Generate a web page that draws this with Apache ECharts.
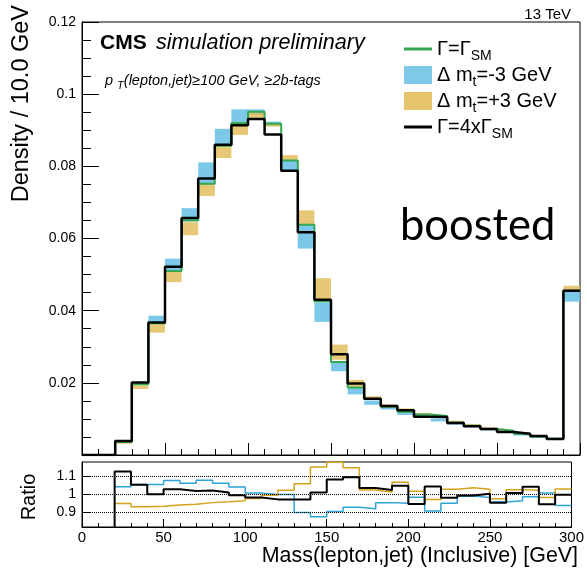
<!DOCTYPE html>
<html>
<head>
<meta charset="utf-8">
<title>Mass(lepton,jet) boosted</title>
<script src="https://cdn.jsdelivr.net/npm/echarts@6/dist/echarts.min.js"></script>
<style>
    html, body { margin: 0; padding: 0; background: #fff; }
    #mass-chart { width: 587px; height: 571px; }
</style>
</head>
<body>
<div id="mass-chart"></div>
<script>
// bin edges, 10 GeV wide
var binEdges = [0, 10, 20, 30, 40, 50, 60, 70, 80, 90, 100, 110, 120, 130, 140, 150,
    160, 170, 180, 190, 200, 210, 220, 230, 240, 250, 260, 270, 280, 290, 300];

// upper panel: density per bin
var nominal = [0, 0, 0.0036, 0.0196, 0.0365, 0.0510, 0.0650, 0.0752, 0.0857, 0.0920,
    0.0951, 0.0918, 0.0816, 0.0638, 0.0426, 0.0258, 0.0187, 0.0155, 0.0134, 0.0120,
    0.0112, 0.0108, 0.0090, 0.0081, 0.0072, 0.0067, 0.0059, 0.0051, 0.0045, 0.0455];
var width4x = [0, 0, 0.0039, 0.0201, 0.0367, 0.0522, 0.0657, 0.0766, 0.0860, 0.0914,
    0.0931, 0.0888, 0.0788, 0.0617, 0.0430, 0.0279, 0.0198, 0.0156, 0.0136, 0.0124,
    0.0106, 0.0105, 0.0089, 0.0080, 0.0072, 0.0064, 0.0059, 0.0053, 0.0044, 0.0455];
var mtMinus = [0, 0, 0.0037, 0.0198, 0.0376, 0.0526, 0.0667, 0.0781, 0.0882, 0.0940,
    0.0950, 0.0918, 0.0803, 0.0605, 0.0396, 0.0245, 0.0178, 0.0145, 0.0130, 0.0115,
    0.0110, 0.0097, 0.0087, 0.0080, 0.0071, 0.0064, 0.0057, 0.0050, 0.0046, 0.0440];
var mtMinusErr = [0, 0, 0.0003, 0.0004, 0.0010, 0.0018, 0.0017, 0.0030, 0.0022, 0.0018,
    0.0008, 0.0006, 0.0013, 0.0033, 0.0027, 0.0013, 0.0010, 0.0006, 0.0004, 0.0004,
    0.0004, 0.0004, 0.0003, 0.0003, 0.0003, 0.0003, 0.0003, 0.0003, 0.0002, 0.0015];
var mtPlus = [0, 0, 0.0034, 0.0188, 0.0351, 0.0494, 0.0627, 0.0735, 0.0840, 0.0902,
    0.0940, 0.0915, 0.0823, 0.0658, 0.0460, 0.0285, 0.0198, 0.0158, 0.0136, 0.0125,
    0.0113, 0.0106, 0.0092, 0.0083, 0.0074, 0.0066, 0.0060, 0.0052, 0.0044, 0.0462];
var mtPlusErr = [0, 0, 0.0003, 0.0005, 0.0012, 0.0015, 0.0018, 0.0017, 0.0017, 0.0015,
    0.0010, 0.0005, 0.0008, 0.0020, 0.0030, 0.0021, 0.0010, 0.0005, 0.0004, 0.0004,
    0.0003, 0.0003, 0.0003, 0.0003, 0.0003, 0.0003, 0.0002, 0.0002, 0.0002, 0.0007];

// lower panel: ratio to nominal
var ratioWidth4x = [0, 0, 1.128, 1.054, 1.002, 1.029, 1.020, 1.022, 1.011, 0.996,
    0.984, 0.973, 0.973, 0.973, 1.011, 1.083, 1.095, 1.036, 1.025, 1.049,
    0.948, 1.045, 0.982, 0.995, 1.004, 0.955, 1.009, 1.043, 0.946, 0.998];
var ratioMtMinus = [null, null, 1.043, 1.055, 1.055, 1.077, 1.063, 1.079, 1.063, 1.041,
    1.009, 1.000, 1.000, 0.900, 0.877, 0.906, 0.930, 0.921, 0.955, 0.951,
    0.985, 0.908, 0.951, 0.991, 0.984, 0.959, 0.966, 0.987, 1.009, 0.939];
var ratioMtPlus = [null, null, 0.950, 0.932, 0.935, 0.942, 0.946, 0.955, 0.960, 0.966,
    0.978, 0.996, 1.023, 1.059, 1.153, 1.178, 1.148, 1.025, 1.014, 1.068,
    1.018, 0.973, 1.029, 1.038, 1.029, 0.977, 1.027, 1.023, 0.984, 1.031];

var ratioTicks = [0.9, 1, 1.1];

var chartMgr = {

    font: 'Liberation Sans, Arial, sans-serif',

    // step points: left edge of each bin, plus the closing right edge
    histPoints: function (values) {
        var pts = [];
        for (var i = 0; i < values.length; i++) {
            pts.push([binEdges[i], values[i]]);
        }
        pts.push([binEdges[values.length], values[values.length - 1]]);
        return pts;
    },

    bandData: function (values, errs) {
        var out = [];
        for (var i = 0; i < values.length; i++) {
            if (!values[i]) continue;
            out.push([binEdges[i], binEdges[i + 1], values[i] - errs[i], values[i] + errs[i]]);
        }
        return out;
    },

    bandRender: function (fill) {
        return function (params, api) {
            var p0 = api.coord([api.value(0), api.value(3)]);
            var p1 = api.coord([api.value(1), api.value(2)]);
            return {
                type: 'rect',
                shape: { x: p0[0], y: p0[1], width: p1[0] - p0[0], height: p1[1] - p0[1] },
                style: { fill: fill }
            };
        };
    },

    legendItem: function (name, top, icon, color, h) {
        var self = this;
        return {
            data: [{ name: name, icon: icon, itemStyle: { color: color } }],
            left: 404,
            top: top,
            itemWidth: 28,
            itemHeight: h,
            itemGap: 0,
            padding: 0,
            selectedMode: false,
            formatter: function (n) { return self.labels[n]; },
            textStyle: {
                fontFamily: self.font, fontSize: 20, color: '#000', padding: [0, 0, 0, 0],
                rich: {
                    sub: { fontFamily: self.font, fontSize: 14, color: '#000', padding: [14, 0, 0, 0] }
                }
            }
        };
    },

    labels: {
        'nominal': '\u0393=\u0393{sub|SM}',
        'mtMinus': '\u0394 m{sub|t}=-3 GeV',
        'mtPlus': '\u0394 m{sub|t}=+3 GeV',
        'width4x': '\u0393=4x\u0393{sub|SM}'
    },

    init: function () {
        var myChart = echarts.init(document.getElementById('mass-chart'));
        var font = this.font;
        var black = '#000';

        var xBase = {
            type: 'value', min: 0, max: 300, interval: 50,
            axisLine: { lineStyle: { color: black } },
            splitLine: { show: false }
        };

        var option = {
            backgroundColor: '#fff',
            animation: false,
            grid: [
                { left: 82, top: 22, width: 498, height: 433, show: true, borderColor: black, borderWidth: 1 },
                { left: 82, top: 462, width: 498, height: 65, show: true, borderColor: black, borderWidth: 1 }
            ],
            xAxis: [
                Object.assign({}, xBase, {
                    gridIndex: 0,
                    axisTick: { inside: true, length: 12, lineStyle: { color: black } },
                    minorTick: { show: true, splitNumber: 5, length: 6, lineStyle: { color: black } },
                    axisLabel: { show: false }
                }),
                Object.assign({}, xBase, {
                    gridIndex: 1,
                    axisTick: { inside: true, length: 8, lineStyle: { color: black } },
                    minorTick: { show: true, splitNumber: 5, length: 4, lineStyle: { color: black } },
                    axisLabel: { fontFamily: font, fontSize: 15, color: black, margin: 3 }
                })
            ],
            yAxis: [
                {
                    type: 'value', gridIndex: 0, min: 0, max: 0.12, interval: 0.02,
                    axisLine: { show: true, lineStyle: { color: black } },
                    axisTick: { inside: true, length: 17, lineStyle: { color: black } },
                    minorTick: { show: true, splitNumber: 4, length: 9, lineStyle: { color: black } },
                    axisLabel: {
                        showMinLabel: false, fontFamily: font, fontSize: 14, color: black, margin: 6,
                        formatter: function (v) { return String(+v.toFixed(2)); }
                    },
                    splitLine: { show: false }
                },
                {
                    type: 'value', gridIndex: 1, min: 0.82, max: 1.18,
                    axisLine: { show: true, lineStyle: { color: black } },
                    axisTick: { inside: true, length: 8, customValues: ratioTicks, lineStyle: { color: black } },
                    axisLabel: {
                        customValues: ratioTicks, fontFamily: font, fontSize: 14, color: black, margin: 6,
                        formatter: function (v) { return String(+v.toFixed(1)); }
                    },
                    splitLine: { show: false }
                }
            ],
            legend: [
                this.legendItem('nominal', 39, 'rect', '#35a853', 3),
                this.legendItem('mtMinus', 65, 'rect', '#7fc9e8', 18),
                this.legendItem('mtPlus', 91, 'rect', '#e6c56c', 18),
                this.legendItem('width4x', 117, 'rect', black, 3)
            ],
            series: [
                {
                    name: 'mtMinus', type: 'custom', xAxisIndex: 0, yAxisIndex: 0,
                    itemStyle: { color: '#7fc9e8' },
                    renderItem: this.bandRender('rgba(100,190,228,0.85)'),
                    data: this.bandData(mtMinus, mtMinusErr), silent: true
                },
                {
                    name: 'mtPlus', type: 'custom', xAxisIndex: 0, yAxisIndex: 0,
                    itemStyle: { color: '#e6c56c' },
                    renderItem: this.bandRender('rgba(226,190,95,0.85)'),
                    data: this.bandData(mtPlus, mtPlusErr), silent: true
                },
                {
                    name: 'nominal', type: 'line', step: 'end', xAxisIndex: 0, yAxisIndex: 0,
                    showSymbol: false, color: '#35a853',
                    lineStyle: { color: '#35a853', width: 2 },
                    data: this.histPoints(nominal), silent: true
                },
                {
                    name: 'width4x', type: 'line', step: 'end', xAxisIndex: 0, yAxisIndex: 0,
                    showSymbol: false, color: black,
                    lineStyle: { color: black, width: 2.5 },
                    data: this.histPoints(width4x), silent: true
                },
                {
                    name: 'ratioMtMinus', type: 'line', step: 'end', xAxisIndex: 1, yAxisIndex: 1,
                    showSymbol: false, lineStyle: { color: '#2fa3d6', width: 1.5 },
                    data: this.histPoints(ratioMtMinus), silent: true,
                    markLine: {
                        silent: true, symbol: 'none', label: { show: false },
                        lineStyle: { color: black, type: 'dotted', width: 1 },
                        data: ratioTicks.map(function (t) { return { yAxis: t }; })
                    }
                },
                {
                    name: 'ratioMtPlus', type: 'line', step: 'end', xAxisIndex: 1, yAxisIndex: 1,
                    showSymbol: false, lineStyle: { color: '#d6a11c', width: 1.5 },
                    data: this.histPoints(ratioMtPlus), silent: true
                },
                {
                    name: 'ratioWidth4x', type: 'line', step: 'end', xAxisIndex: 1, yAxisIndex: 1,
                    showSymbol: false, lineStyle: { color: black, width: 2 },
                    data: this.histPoints(ratioWidth4x), silent: true
                }
            ],
            graphic: [
                { type: 'text', x: 571, y: 15, style: { text: '13 TeV', fontFamily: font, fontSize: 15, fill: black, align: 'right', verticalAlign: 'middle' } },
                { type: 'text', x: 100, y: 43, style: { text: 'CMS', fontFamily: font, fontSize: 21, fontWeight: 'bold', fill: black, verticalAlign: 'middle' } },
                { type: 'text', x: 156, y: 43, style: { text: 'simulation preliminary', fontFamily: font, fontSize: 21.6, fontStyle: 'italic', fill: black, verticalAlign: 'middle' } },
                {
                    type: 'text', x: 105, y: 81,
                    style: {
                        text: '{i|p }{s|T}{i|(lepton,jet)\u2265100 GeV, \u22652b-tags}',
                        verticalAlign: 'middle', fill: black,
                        rich: {
                            i: { fontFamily: font, fontSize: 14.5, fontStyle: 'italic', fill: black },
                            s: { fontFamily: font, fontSize: 11, fontStyle: 'italic', fill: black, padding: [10, 0, 0, 0] }
                        }
                    }
                },
                { type: 'text', x: 400, y: 226, style: { text: 'boosted', fontFamily: 'Lato, sans-serif', fontSize: 43.5, fill: black, verticalAlign: 'middle' } },
                { type: 'text', x: 22, y: 5, rotation: Math.PI / 2, style: { text: 'Density / 10.0 GeV', fontFamily: font, fontSize: 23.5, fill: black, align: 'right', verticalAlign: 'middle' } },
                { type: 'text', x: 29, y: 497, rotation: Math.PI / 2, style: { text: 'Ratio', fontFamily: font, fontSize: 20, fill: black, align: 'center', verticalAlign: 'middle' } },
                { type: 'text', x: 578, y: 556, style: { text: 'Mass(lepton,jet) (Inclusive) [GeV]', fontFamily: font, fontSize: 21.4, fill: black, align: 'right', verticalAlign: 'middle' } }
            ]
        };

        myChart.setOption(option);
    }
};

chartMgr.init();
</script>
</body>
</html>
